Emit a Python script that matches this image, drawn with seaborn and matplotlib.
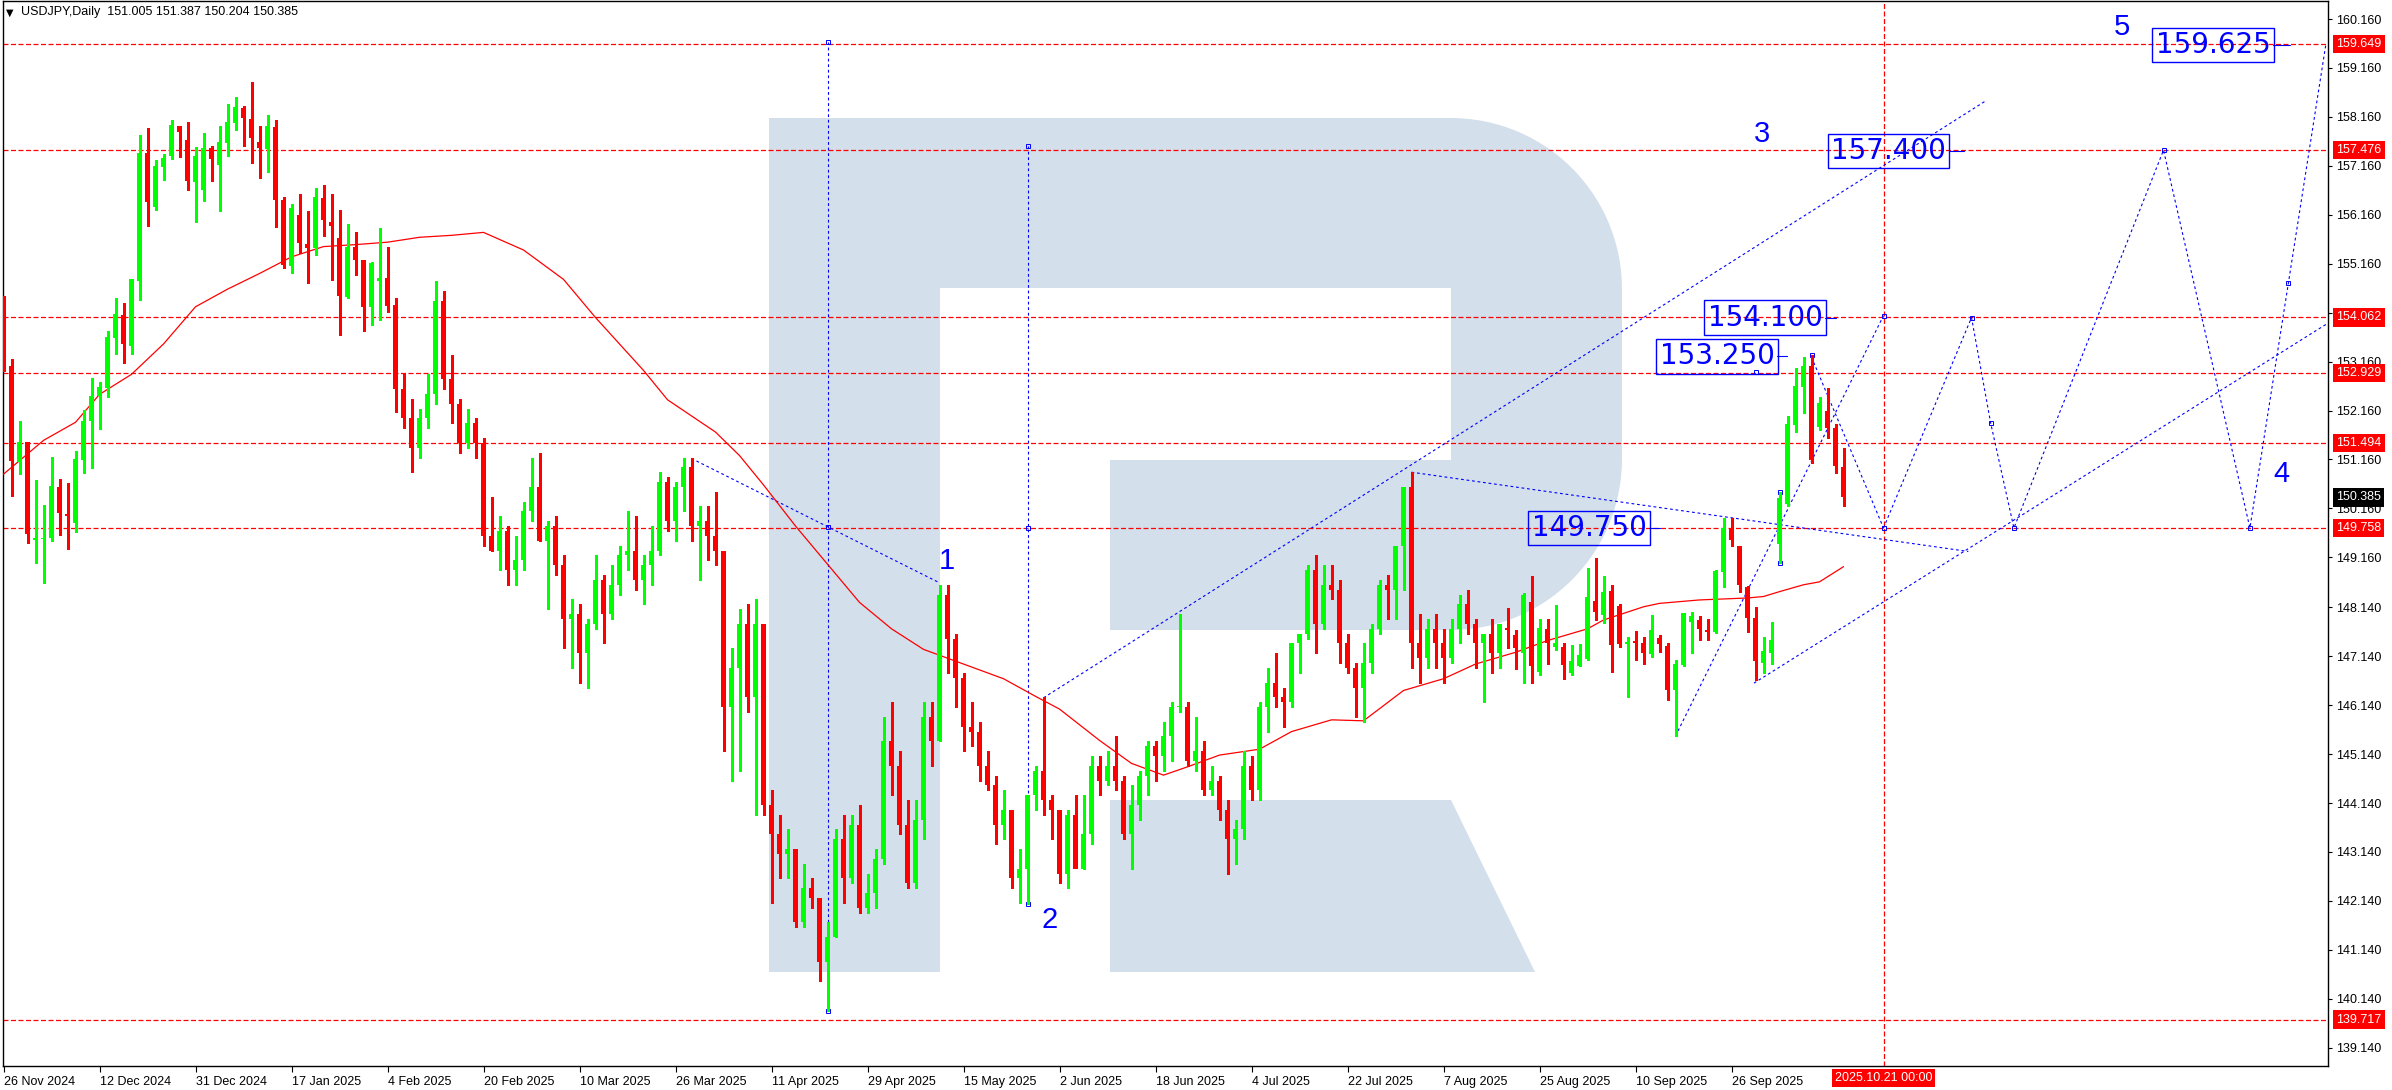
import numpy as np
import pandas as pd
import seaborn as sns
import matplotlib
matplotlib.use("Agg")
import matplotlib.pyplot as plt
from matplotlib import transforms
from matplotlib.patches import Polygon

sns.set_theme(style="white")
plt.rcParams["font.family"] = ["Liberation Sans", "DejaVu Sans"]

W, H = 2392, 1090

# daily candles, bar 0 = 26 Nov 2024 (one bar per trading day)
opens = [
    154.20, 153.07, 151.10, 151.51, 149.52, 149.54, 149.56, 150.60, 150.05, 149.87,
    151.15, 151.94, 152.45, 152.63, 153.65, 154.12, 153.47, 154.80, 157.42, 156.31,
    157.13, 157.36, 157.98, 157.68, 156.83, 156.67, 157.52, 157.18, 157.62, 158.04,
    158.35, 158.11, 157.65, 157.51, 157.95, 156.47, 155.11, 156.16, 155.56, 155.48,
    156.51, 156.02, 155.68, 154.48, 155.50, 155.23, 154.28, 154.81, 154.86, 154.31,
    152.60, 152.00, 151.40, 152.00, 152.50, 154.40, 152.80, 152.30, 151.50, 151.90,
    151.50, 149.60, 149.30, 149.70, 148.90, 149.10, 150.10, 150.60, 149.50, 149.80,
    149.00, 147.90, 148.00, 147.20, 147.80, 148.70, 148.00, 148.60, 149.20, 149.30,
    148.70, 149.00, 149.30, 150.70, 149.90, 150.60, 151.00, 149.80, 149.90, 149.60,
    149.30, 146.10, 146.90, 147.80, 146.30, 147.80, 144.10, 143.50, 143.10, 143.20,
    141.70, 142.40, 142.20, 140.90, 141.40, 143.40, 142.60, 143.70, 142.00, 142.30,
    143.00, 145.40, 144.90, 143.70, 142.50, 143.80, 145.90, 145.40, 148.40, 147.50,
    146.70, 145.70, 145.60, 144.90, 144.50, 143.70, 144.00, 142.60, 142.80, 144.30,
    144.80, 144.20, 144.00, 142.70, 143.90, 142.80, 143.50, 144.90, 144.60, 144.90,
    144.60, 143.50, 144.10, 144.70, 145.30, 145.10, 145.50, 146.10, 146.10, 145.00,
    145.20, 144.40, 144.60, 144.00, 143.40, 143.60, 144.90, 144.40, 146.10, 146.60,
    146.30, 146.20, 147.40, 147.60, 148.90, 147.80, 148.60, 148.50, 147.40, 146.90,
    146.50, 147.00, 147.70, 148.60, 148.50, 149.40, 150.60, 147.40, 147.10, 147.70,
    147.40, 147.10, 147.70, 148.20, 147.80, 147.40, 147.60, 147.20, 147.71, 147.57,
    147.20, 148.25, 146.82, 147.69, 147.32, 147.33, 146.79, 146.94, 147.08, 148.27,
    147.98, 148.47, 148.17, 147.39, 147.44, 147.42, 147.19, 147.51, 147.35, 146.45,
    146.96, 147.83, 147.88, 147.68, 147.64, 148.87, 149.77, 149.39, 148.55, 147.93,
    147.00, 147.21, 149.43, 150.26, 151.86, 152.65, 153.07, 151.83, 152.15, 151.81,
    151.005,
]
highs = [
    154.50, 153.22, 151.95, 151.51, 150.75, 150.23, 151.22, 150.77, 150.67, 151.34,
    152.17, 152.83, 152.74, 153.79, 154.46, 154.35, 154.84, 157.80, 157.93, 157.27,
    157.40, 158.09, 157.98, 158.06, 157.55, 157.84, 157.57, 157.97, 158.42, 158.57,
    158.39, 158.88, 157.97, 158.19, 158.09, 156.53, 156.37, 156.58, 156.23, 156.70,
    156.76, 156.58, 156.25, 155.98, 155.80, 155.23, 155.20, 155.88, 155.50, 154.45,
    152.90, 152.40, 152.20, 152.90, 154.80, 154.60, 153.30, 152.40, 152.20, 152.00,
    151.60, 150.40, 150.00, 149.80, 149.60, 150.30, 151.20, 151.30, 149.90, 150.00,
    149.20, 148.30, 148.20, 147.90, 149.20, 148.80, 149.00, 149.40, 150.10, 150.00,
    149.20, 149.80, 150.90, 150.80, 150.70, 151.20, 151.20, 150.20, 150.20, 150.50,
    149.30, 147.30, 148.10, 148.20, 148.30, 147.80, 144.40, 143.90, 143.60, 143.20,
    142.90, 142.60, 142.20, 141.70, 143.60, 143.90, 143.90, 144.10, 142.70, 143.20,
    145.90, 146.20, 145.20, 144.20, 144.20, 146.20, 146.20, 148.60, 148.60, 147.60,
    146.80, 146.20, 145.80, 145.20, 144.70, 144.40, 144.00, 143.20, 144.30, 144.90,
    146.30, 144.30, 144.00, 144.00, 144.30, 144.30, 145.10, 145.10, 145.20, 145.50,
    144.70, 144.50, 144.80, 145.40, 145.40, 145.80, 146.20, 148.00, 146.20, 145.90,
    145.40, 144.90, 144.70, 144.20, 143.80, 145.20, 145.10, 146.20, 146.90, 147.20,
    146.50, 147.40, 147.60, 149.00, 149.20, 149.00, 149.00, 148.70, 147.60, 147.00,
    147.40, 147.80, 148.70, 148.80, 149.40, 150.60, 150.90, 148.00, 147.90, 148.00,
    147.70, 147.90, 148.40, 148.50, 147.90, 147.60, 147.90, 147.60, 148.12, 147.68,
    148.43, 148.78, 147.91, 147.91, 148.19, 147.40, 147.37, 147.39, 148.94, 149.14,
    148.78, 148.59, 148.21, 147.54, 147.66, 147.54, 147.98, 147.57, 147.42, 147.06,
    148.02, 148.05, 147.96, 147.91, 148.90, 149.96, 149.97, 149.39, 148.57, 148.15,
    147.53, 147.83, 150.50, 152.05, 153.02, 153.25, 153.29, 152.44, 152.63, 151.88,
    151.387,
]
lows = [
    152.96, 150.42, 150.86, 149.45, 149.05, 148.63, 149.50, 149.62, 149.34, 149.67,
    150.88, 150.99, 151.78, 152.43, 153.31, 153.14, 153.31, 154.42, 155.94, 156.25,
    156.87, 157.30, 157.35, 156.67, 156.01, 156.45, 156.85, 156.24, 157.36, 157.89,
    157.57, 157.21, 156.91, 157.03, 155.91, 155.08, 154.97, 155.37, 154.77, 155.34,
    155.72, 154.82, 153.71, 154.46, 154.93, 153.79, 153.91, 154.01, 154.17, 152.12,
    151.80, 150.90, 151.20, 151.80, 152.30, 152.60, 151.90, 151.30, 151.40, 151.20,
    149.40, 149.30, 148.90, 148.60, 148.60, 148.90, 149.90, 149.50, 148.10, 148.80,
    147.30, 146.90, 146.60, 146.50, 147.70, 147.40, 147.90, 148.40, 148.90, 148.50,
    148.20, 148.60, 149.20, 149.70, 149.50, 150.10, 149.50, 148.70, 149.10, 149.00,
    145.20, 144.60, 144.80, 146.00, 143.90, 143.90, 142.10, 142.60, 142.60, 141.60,
    141.60, 142.00, 140.50, 139.89, 141.40, 142.10, 142.50, 141.90, 141.90, 142.00,
    142.90, 144.30, 143.50, 142.40, 142.40, 143.40, 144.90, 145.40, 146.80, 146.10,
    145.20, 145.30, 144.60, 144.40, 143.30, 143.40, 142.40, 142.10, 142.07, 144.00,
    143.90, 143.40, 142.50, 142.40, 142.90, 142.80, 143.30, 144.30, 144.50, 144.40,
    143.40, 142.80, 143.80, 144.30, 144.60, 144.80, 145.00, 146.00, 144.90, 144.80,
    144.30, 144.30, 143.80, 142.70, 142.90, 143.40, 144.20, 144.20, 145.60, 146.10,
    145.70, 146.10, 146.80, 147.50, 147.20, 147.70, 148.30, 147.00, 146.80, 145.90,
    145.80, 146.80, 147.60, 147.90, 147.90, 148.50, 146.90, 146.60, 146.90, 146.90,
    146.60, 147.00, 147.40, 147.60, 146.90, 146.20, 146.80, 146.90, 147.30, 146.87,
    146.59, 146.59, 146.76, 146.99, 147.27, 146.67, 146.76, 146.93, 147.06, 147.88,
    147.81, 146.82, 147.33, 146.31, 147.06, 146.99, 147.13, 147.23, 146.25, 145.51,
    146.93, 147.20, 147.47, 147.47, 147.61, 148.56, 149.39, 148.46, 147.64, 146.65,
    146.79, 146.99, 149.04, 150.21, 151.73, 152.10, 151.08, 151.76, 151.59, 150.89,
    150.204,
]
closes = [
    153.07, 151.12, 151.51, 149.63, 149.55, 149.55, 150.62, 150.06, 150.01, 151.17,
    151.95, 152.46, 152.65, 153.67, 154.14, 153.51, 154.84, 157.43, 156.43, 157.15,
    157.32, 158.00, 157.86, 156.85, 157.37, 157.53, 157.30, 157.64, 158.06, 158.36,
    158.13, 157.73, 157.53, 157.97, 156.47, 155.13, 156.30, 155.59, 155.48, 156.53,
    156.05, 155.94, 154.50, 155.50, 155.24, 154.28, 155.18, 154.86, 154.29, 152.61,
    152.00, 151.40, 152.00, 152.50, 154.40, 152.80, 152.30, 151.50, 151.90, 151.50,
    149.60, 149.30, 149.70, 148.90, 149.10, 150.10, 150.60, 149.50, 149.80, 149.00,
    147.90, 148.00, 147.20, 147.80, 148.70, 148.00, 148.60, 149.20, 149.30, 148.70,
    149.00, 149.30, 150.70, 149.90, 150.60, 151.00, 149.80, 149.90, 149.60, 149.30,
    146.10, 146.90, 147.80, 146.30, 147.80, 144.10, 143.50, 143.10, 143.20, 141.70,
    142.40, 142.20, 140.90, 141.40, 143.40, 142.60, 143.70, 142.00, 142.30, 143.00,
    145.40, 144.90, 143.70, 142.50, 143.80, 145.90, 145.40, 148.40, 147.50, 146.70,
    145.70, 145.60, 144.90, 144.50, 143.70, 144.00, 142.60, 142.80, 144.30, 144.80,
    144.20, 144.00, 142.70, 143.90, 142.80, 143.50, 144.90, 144.60, 144.90, 144.60,
    143.50, 144.10, 144.70, 145.30, 145.10, 145.50, 146.10, 146.10, 145.00, 145.20,
    144.40, 144.60, 144.00, 143.40, 143.60, 144.90, 144.40, 146.10, 146.60, 146.30,
    146.20, 147.40, 147.60, 148.90, 147.80, 148.60, 148.50, 147.40, 146.90, 146.50,
    147.00, 147.70, 148.60, 148.50, 149.40, 150.60, 147.40, 147.10, 147.70, 147.40,
    147.10, 147.70, 148.20, 147.80, 147.40, 147.60, 147.20, 147.80, 147.68, 147.30,
    148.39, 146.93, 147.71, 147.42, 147.42, 146.96, 147.05, 147.16, 148.36, 148.05,
    148.45, 147.37, 147.39, 147.44, 147.42, 147.20, 147.68, 147.39, 146.45, 146.99,
    148.02, 147.96, 147.69, 147.64, 148.88, 149.77, 149.51, 148.60, 147.93, 147.05,
    147.25, 147.47, 150.37, 151.88, 152.66, 153.07, 151.15, 152.32, 151.80, 151.03,
    150.385,
]

# moving average read at selected bars
ma_bars = [0, 5, 9, 12, 16, 20, 24, 28, 32, 36, 40, 44, 48, 52, 56, 60, 65, 70, 74,
           80, 83, 89, 92, 95, 99, 103, 107, 111, 115, 120, 125, 129, 132, 137, 141,
           145, 148, 152, 157, 161, 166, 170, 175, 180, 184, 189, 193, 198, 200, 205,
           207, 212, 218, 220, 222, 225, 227, 230]
ma_vals = [150.86, 151.55, 151.92, 152.49, 152.90, 153.52, 154.28, 154.64, 154.96,
           155.30, 155.51, 155.55, 155.60, 155.70, 155.74, 155.80, 155.44, 154.84,
           154.06, 152.98, 152.38, 151.72, 151.24, 150.64, 149.80, 149.02, 148.24,
           147.70, 147.28, 146.98, 146.68, 146.32, 146.06, 145.42, 144.95, 144.71,
           144.88, 145.12, 145.24, 145.60, 145.84, 145.82, 146.44, 146.68, 146.98,
           147.22, 147.46, 147.70, 147.88, 148.15, 148.22, 148.29, 148.33, 148.36,
           148.46, 148.60, 148.66, 148.97]

date_labels = ["26 Nov 2024", "12 Dec 2024", "31 Dec 2024", "17 Jan 2025", "4 Feb 2025",
               "20 Feb 2025", "10 Mar 2025", "26 Mar 2025", "11 Apr 2025", "29 Apr 2025",
               "15 May 2025", "2 Jun 2025", "18 Jun 2025", "4 Jul 2025", "22 Jul 2025",
               "7 Aug 2025", "25 Aug 2025", "10 Sep 2025", "26 Sep 2025"]
date_bars = list(range(0, 217, 12))

price_ticks = [160.16, 159.16, 158.16, 157.16, 156.16, 155.16, 154.16, 153.16, 152.16,
               151.16, 150.16, 149.16, 148.14, 147.14, 146.14, 145.14, 144.14, 143.14,
               142.14, 141.14, 140.14, 139.14]
levels = [159.649, 157.476, 154.062, 152.929, 151.494, 149.758, 139.717]
last_price = 150.385
future_bar = 235
future_label = "2025.10.21 00:00"

# blue wave lines as (bar0, price0, bar1, price1)
wave_lines = [
    (103, 139.89, 103, 159.70),
    (128, 142.07, 128, 157.56),
    (86, 151.18, 117, 148.64),
    (130, 146.29, 247.8, 158.49),
    (176, 150.90, 245.6, 149.28),
    (209, 145.51, 235, 154.10),
    (218.8, 146.59, 290.5, 153.94),
    (226, 153.25, 235, 149.76),
]
path_bars = [235, 246, 248.4, 251.3, 270, 280.8, 290.3]
path_prices = [149.76, 154.06, 151.90, 149.76, 157.48, 149.76, 159.65]

# small anchor squares of the drawing objects
anchor_bars = [103, 103, 103, 128, 128, 128, 235, 235, 246, 248.4, 251.3, 270, 280.8,
               226, 219, 222, 222, 285.6]
anchor_prices = [159.70, 149.78, 139.89, 157.56, 149.76, 142.07, 154.10, 149.76, 154.06,
                 151.90, 149.76, 157.48, 149.76, 153.29, 152.95, 150.50, 149.04, 154.76]

box_texts = ["159.625", "157.400", "154.100", "153.250", "149.750"]
box_bars = [276.2, 235.6, 220.2, 214.2, 198.2]
box_prices = [159.63, 157.46, 154.06, 153.27, 149.76]
# short connector ticks right of each box (bar start, bar end)
tick_from = [283.7, 243.3, 227.7, 221.7, 205.7]
tick_to = [285.8, 245.1, 229.1, 222.9, 207.1]

wave_nums = ["1", "2", "3", "4", "5"]
num_bars = [117.9, 130.8, 219.8, 284.8, 264.8]
num_prices = [149.09, 141.75, 157.81, 150.86, 160.00]

df = pd.DataFrame({"open": opens, "high": highs, "low": lows, "close": closes})
df["bar"] = np.arange(len(df))

fig = plt.figure(figsize=(W / 100, H / 100), dpi=100)
fig.patch.set_facecolor("white")
ax = fig.add_axes([2.5 / W, 24 / H, (2328 - 2.5) / W, (1066 - 1) / H])
ax.set_facecolor("white")
ax.set_xlim(-0.125, 290.56)
ax.set_ylim(138.767, 160.528)

# watermark logo, pixel coordinates from the top-left
pix = transforms.Affine2D().scale(1, -1).translate(0, H)
t1 = np.linspace(np.pi / 2, 0, 30)
t2 = np.linspace(0, -np.pi / 2, 30)
outer = [(769, 118)]
outer += [(1451 + 171 * np.cos(t), 289 - 171 * np.sin(t)) for t in t1]
outer += [(1451 + 171 * np.cos(t), 459 - 171 * np.sin(t)) for t in t2]
outer += [(1110, 630), (1110, 460), (1451, 460), (1451, 288), (940, 288), (940, 972), (769, 972)]
logo_col = "#d3dfeb"
ax.add_patch(Polygon(outer, closed=True, transform=pix, fc=logo_col, ec="none", zorder=0.5))
ax.add_patch(Polygon([(1110, 800), (1451, 800), (1535, 972), (1110, 972)], closed=True,
                     transform=pix, fc=logo_col, ec="none", zorder=0.5))

# level lines
for lv in levels:
    ax.axhline(lv, color="#ff0000", lw=0.9, ls=(0, (4, 2)), zorder=1)
ax.axvline(future_bar, color="#ff0000", lw=0.9, ls=(0, (4, 2)), zorder=1)

# wave lines
blue = "#0000ff"
for b0, p0, b1, p1 in wave_lines:
    ax.plot([b0, b1], [p0, p1], color=blue, lw=0.8, ls=(0, (2.5, 2.5)), zorder=2)
ax.plot(path_bars, path_prices, color=blue, lw=0.8, ls=(0, (2.5, 2.5)), zorder=2)
ax.plot(anchor_bars, anchor_prices, ls="none", marker="s", ms=3.5, mfc="none", mec=blue,
        mew=0.7, zorder=2)

# moving average
sns.lineplot(x=ma_bars, y=ma_vals, color="#ff0000", lw=0.9, ax=ax, zorder=3)

# candles
up = df["close"] >= df["open"]
cols = np.where(up, "#00ff00", "#ff0000")
ax.vlines(df["bar"], df["low"], df["high"], colors=cols, lw=0.8, zorder=4, antialiased=False)
body_lo = np.minimum(df["open"], df["close"])
body_h = np.maximum((df["close"] - df["open"]).abs(), 0.025)
ax.bar(df["bar"], body_h, bottom=body_lo, width=0.66, color=cols, lw=0, zorder=5)

# target boxes
for txt, b, p, t0, t1_ in zip(box_texts, box_bars, box_prices, tick_from, tick_to):
    ax.text(b, p, txt, color=blue, fontsize=20, family="DejaVu Sans", ha="center",
            va="center", zorder=6,
            bbox=dict(boxstyle="square,pad=0.12", fc="none", ec=blue, lw=1))
    ax.plot([t0, t1_], [p, p], color=blue, lw=0.8, zorder=6)
for txt, b, p in zip(wave_nums, num_bars, num_prices):
    ax.text(b, p, txt, color=blue, fontsize=21, ha="center", va="center", zorder=6)

# axes styling
for s in ax.spines.values():
    s.set_color("black")
    s.set_linewidth(1)
ax.yaxis.tick_right()
ax.set_yticks(price_ticks)
ax.set_yticklabels([f"{v:.3f}" for v in price_ticks])
ax.set_xticks(date_bars)
ax.set_xticklabels(date_labels)
for lbl in ax.get_xticklabels():
    lbl.set_horizontalalignment("left")
ax.tick_params(axis="y", which="both", right=True, left=False, length=3, width=0.8,
               pad=3, labelsize=9, colors="black", direction="out")
ax.tick_params(axis="x", bottom=True, length=4, width=0.8, pad=3, labelsize=9,
               colors="black", direction="out")
ax.set_xlabel("")
ax.set_ylabel("")
ax.grid(False)

yb = transforms.blended_transform_factory(ax.transAxes, ax.transData)
for lv in levels:
    ax.text(1.0035, lv, f"{lv:.3f}", transform=yb, color="white", fontsize=9, ha="left",
            va="center", clip_on=False, zorder=10,
            bbox=dict(boxstyle="square,pad=0.25", fc="#ff0000", ec="none"))
ax.text(1.0035, last_price, f"{last_price:.3f}", transform=yb, color="white", fontsize=9,
        ha="left", va="center", clip_on=False, zorder=10,
        bbox=dict(boxstyle="square,pad=0.25", fc="black", ec="none"))
xb = transforms.blended_transform_factory(ax.transData, ax.transAxes)
ax.text(future_bar, -0.0115, future_label, transform=xb, color="white", fontsize=9,
        ha="center", va="center", clip_on=False, zorder=10,
        bbox=dict(boxstyle="square,pad=0.25", fc="#ff0000", ec="none"))

fig.text(6 / W, 1 - 13 / H, "\u25bc", fontsize=7, color="black", va="center",
         family=["DejaVu Sans"])
fig.text(21 / W, 1 - 12 / H, "USDJPY,Daily  151.005 151.387 150.204 150.385",
         fontsize=9, color="black", va="center")

fig.savefig("out.png", dpi=100, facecolor="white")
